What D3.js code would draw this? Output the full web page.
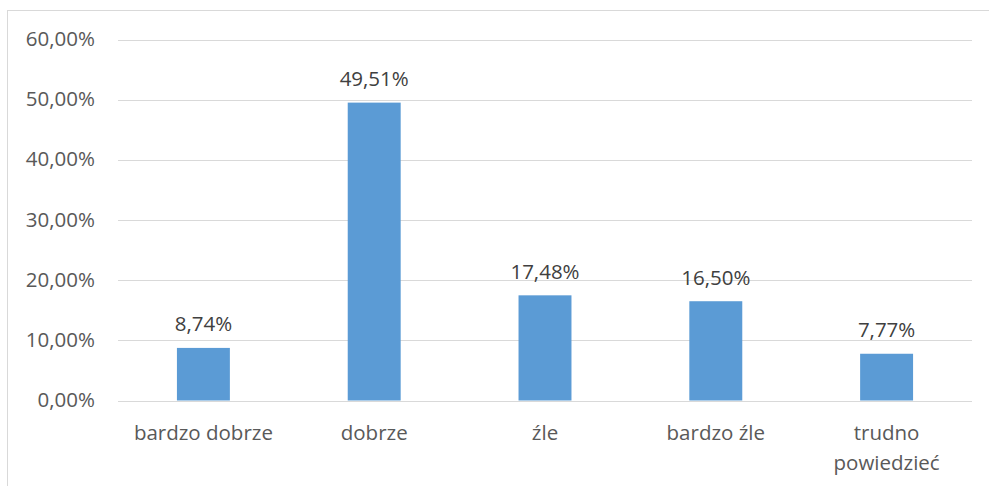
<!DOCTYPE html>
<html><head><meta charset="utf-8">
<script src="https://cdn.jsdelivr.net/npm/d3@7"></script>
<style>body{margin:0;background:#fff}svg{display:block}</style>
</head><body>
<svg id="c" width="989" height="486"></svg>
<script>
const categories = ["bardzo dobrze", "dobrze", "źle", "bardzo źle", "trudno powiedzieć"];
const values = [8.74, 49.51, 17.48, 16.50, 7.77];
const valueLabels = ["8,74%", "49,51%", "17,48%", "16,50%", "7,77%"];
const yTicks = [0, 10, 20, 30, 40, 50, 60];
const yTickLabels = ["0,00%", "10,00%", "20,00%", "30,00%", "40,00%", "50,00%", "60,00%"];

(function () {
const svg = d3.select("#c");
const font = "'Open Sans', sans-serif";
const fs = 20.5;
svg.append("rect").attr("x", 7.5).attr("y", 10.5).attr("width", 1000).attr("height", 500)
  .attr("fill", "#fff").attr("stroke", "#d9d9d9").attr("stroke-width", 1);

const pLeft = 118, pRight = 972, pTop = 39.5, pBottom = 400.5;
const x = d3.scaleBand().domain(categories).range([pLeft, pRight]).paddingInner(0.69).paddingOuter(0.345);
const y = d3.scaleLinear().domain([0, 60]).range([pBottom, pTop]);

const grid = svg.append("g");
grid.selectAll("line").data(yTicks).join("line")
  .attr("x1", pLeft).attr("x2", pRight)
  .attr("y1", d => Math.round(y(d)) + 0.5).attr("y2", d => Math.round(y(d)) + 0.5)
  .attr("stroke", "#d9d9d9").attr("stroke-width", 1);

svg.append("g").selectAll("text").data(yTicks).join("text")
  .attr("x", 95).attr("y", d => y(d) + 6.5)
  .attr("text-anchor", "end").attr("font-family", font).attr("font-size", fs)
  .attr("fill", "#595959").text((d, i) => yTickLabels[i]);

svg.append("g").selectAll("rect").data(values).join("rect")
  .attr("x", (d, i) => x(categories[i])).attr("width", x.bandwidth())
  .attr("y", d => y(d)).attr("height", d => y(0) - y(d))
  .attr("fill", "#5b9bd5");

svg.append("g").selectAll("text").data(values).join("text")
  .attr("x", (d, i) => x(categories[i]) + x.bandwidth() / 2).attr("y", d => y(d) - 16.5)
  .attr("text-anchor", "middle").attr("font-family", font).attr("font-size", fs)
  .attr("fill", "#404040").text((d, i) => valueLabels[i]);

const catG = svg.append("g");
categories.forEach((c, i) => {
  const cx = x(c) + x.bandwidth() / 2;
  const lines = c === "trudno powiedzieć" ? ["trudno", "powiedzieć"] : [c];
  lines.forEach((l, j) => {
    catG.append("text").attr("x", cx).attr("y", 440 + j * 30)
      .attr("text-anchor", "middle").attr("font-family", font).attr("font-size", fs)
      .attr("fill", "#595959").text(l);
  });
});
})();
</script>
</body></html>
